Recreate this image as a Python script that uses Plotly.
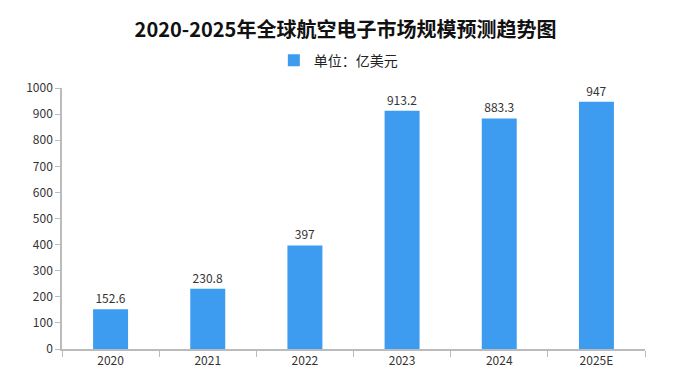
import plotly.graph_objects as go

categories = ["2020", "2021", "2022", "2023", "2024", "2025E"]
values = [152.6, 230.8, 397, 913.2, 883.3, 947]
labels = ["152.6", "230.8", "397", "913.2", "883.3", "947"]

font = "Noto Sans CJK SC, Liberation Sans, sans-serif"

fig = go.Figure()
fig.add_trace(go.Bar(
    x=categories, y=values, name="单位：亿美元",
    marker=dict(color="#3d9bf0", line=dict(width=0)),
    text=labels, textposition="outside", cliponaxis=False,
    textfont=dict(size=12, color="#333333", family=font),
    width=0.36,
))
fig.update_layout(
    width=691, height=388,
    margin=dict(l=62, r=46, t=88, b=39),
    paper_bgcolor="white", plot_bgcolor="white",
    title=dict(text="<b>2020-2025年全球航空电子市场规模预测趋势图</b>",
               x=0.5, xanchor="center", y=0.922, yanchor="middle",
               font=dict(size=20, color="#111111", family=font)),
    showlegend=True,
    legend=dict(orientation="h", x=0.474, xanchor="center", y=1.105, yanchor="middle",
                font=dict(size=14, color="#222222", family=font),
                itemwidth=30),
    font=dict(family=font, size=12, color="#333333"),
)
fig.update_xaxes(
    showline=True, linecolor="#bbbbbb", linewidth=1.5,
    ticks="outside", tickson="boundaries", ticklen=6, tickcolor="#bbbbbb",
    tickfont=dict(size=12, color="#333333"),
    showgrid=False, automargin=False,
)
fig.update_yaxes(
    range=[0, 1000], dtick=100,
    showline=True, linecolor="#bbbbbb", linewidth=1.5,
    ticks="outside", ticklen=5, tickcolor="#bbbbbb",
    tickfont=dict(size=12, color="#333333"),
    showgrid=False, zeroline=False, automargin=False,
)
fig.write_html("out.html", config={"displayModeBar": False},
               post_script="document.body.style.margin='0';")
